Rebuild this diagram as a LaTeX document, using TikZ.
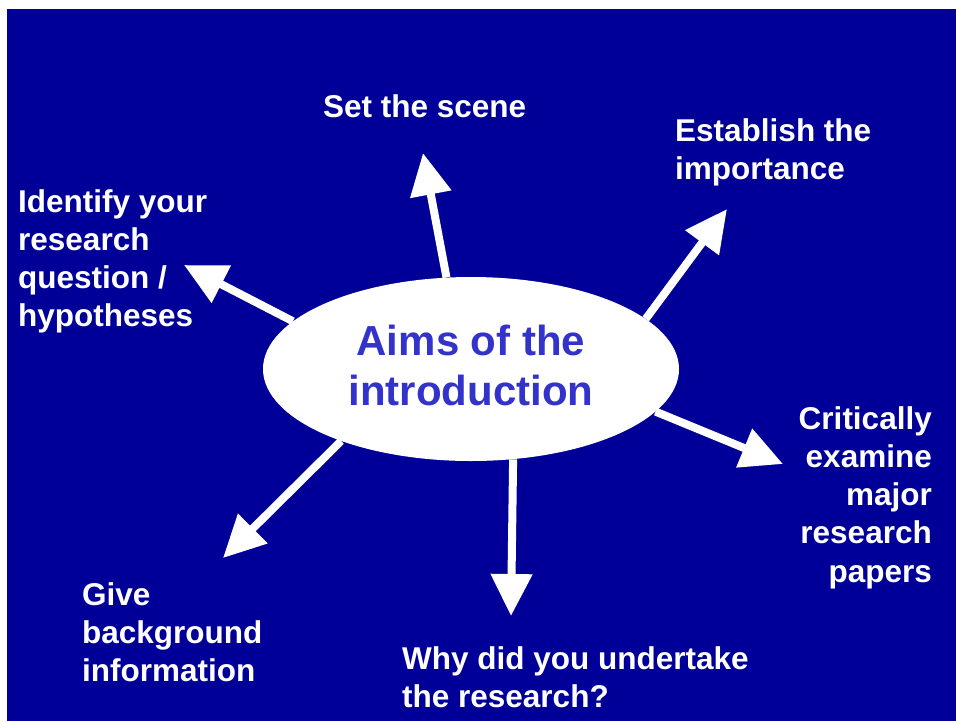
\documentclass[tikz,border=0pt]{standalone}
\usepackage{fontspec}
\setmainfont{Liberation Sans}
\usetikzlibrary{arrows.meta,shapes.geometric}
\definecolor{bgblue}{RGB}{0,0,153}
\definecolor{txtblue}{RGB}{51,51,204}
\tikzset{
  lbl/.style={text=white, inner sep=0pt, font=\fontsize{31.5}{38.3}\selectfont\bfseries},
  aim/.style={line width=8pt, draw=white, -{Triangle[width=40pt,length=42pt]}},
}
\begin{document}
\begin{tikzpicture}[x=1pt,y=-1pt]
\useasboundingbox (0,0) rectangle (956,721);
\fill[bgblue] (7,9) rectangle (956,721);
\node[ellipse, fill=white, minimum width=416pt, minimum height=184pt, inner sep=0pt] (ell) at (471,369) {};
\node[text=txtblue, align=center, inner sep=0pt, font=\fontsize{42}{50}\selectfont\bfseries] (aimtext) at (471,365)
      {Aims of the\\introduction};
\coordinate (t1) at (423,153);
\coordinate (t2) at (727,209);
\coordinate (t3) at (184,265);
\coordinate (t4) at (783,464);
\coordinate (t5) at (223,558);
\coordinate (t6) at (511,616);
\draw[aim] (ell.105.9) -- (t1);
\draw[aim] (ell.16.6) -- (t2);
\draw[aim] (ell.165.4) -- (t3);
\draw[aim] (ell.-13.3) -- (t4);
\draw[aim] (ell.-151.2) -- (t5);
\draw[aim] (ell.-65.7) -- (t6);
\node[lbl, anchor=base west] (scene) at (323,117) {Set the scene};
\node[lbl, anchor=base west, align=left] (importance) at (675,179.3) {Establish the\\importance};
\node[lbl, anchor=base west, align=left] (identify) at (18,326.9) {Identify your\\research\\question /\\hypotheses};
\node[lbl, anchor=base east, align=right] (critical) at (932,582.2) {Critically\\examine\\major\\research\\papers};
\node[lbl, anchor=base west, align=left] (background) at (82,681.6) {Give\\background\\information};
\node[lbl, anchor=base west, align=left] (why) at (402,707.3) {Why did you undertake\\the research?};
\end{tikzpicture}
\end{document}
